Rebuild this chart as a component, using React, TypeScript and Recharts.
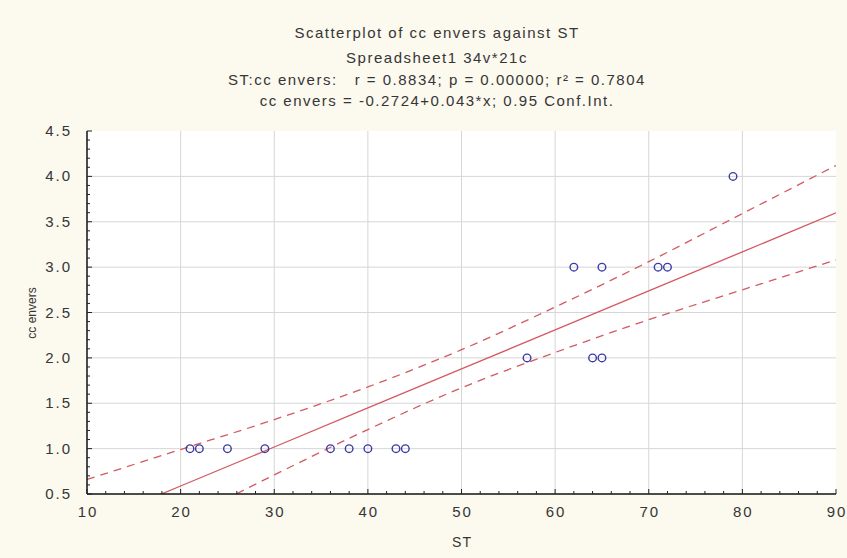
import React from 'react';
import { ComposedChart, Scatter, Line, XAxis, YAxis, ReferenceLine } from 'recharts';

// Observed points (ST, cc envers)
const stValues = [21, 22, 25, 29, 36, 38, 40, 43, 44, 57, 64, 65, 62, 65, 71, 72, 79];
const ccValues = [1, 1, 1, 1, 1, 1, 1, 1, 1, 2, 2, 2, 3, 3, 3, 3, 4];

// Regression line and 0.95 confidence band
const lineX = [10, 20, 30, 40, 50, 60, 70, 80, 90];
const fitY = [0.158, 0.588, 1.018, 1.448, 1.878, 2.308, 2.738, 3.168, 3.598];
const upperY = [0.66, 0.99, 1.32, 1.68, 2.09, 2.56, 3.06, 3.59, 4.12];
const lowerY = [-0.34, 0.19, 0.71, 1.21, 1.67, 2.06, 2.42, 2.75, 3.08];

// Axis ticks
const xTicks = [10, 20, 30, 40, 50, 60, 70, 80, 90];
const yTicks = [0.5, 1.0, 1.5, 2.0, 2.5, 3.0, 3.5, 4.0, 4.5];
const yTickLabels = ['0.5', '1.0', '1.5', '2.0', '2.5', '3.0', '3.5', '4.0', '4.5'];
const xGrid = [20, 30, 40, 50, 60, 70, 80];
const yGrid = [1.0, 1.5, 2.0, 2.5, 3.0, 3.5, 4.0];

const xMinor = Array.from({ length: 41 }, (_, i) => 10 + i * 2);
const yMinor = Array.from({ length: 41 }, (_, i) => Math.round((0.5 + i * 0.1) * 10) / 10);

const titleLines = [
  'Scatterplot of cc envers against ST',
  'Spreadsheet1 34v*21c',
  'ST:cc envers:   r = 0.8834; p = 0.00000; r² = 0.7804',
  'cc envers = -0.2724+0.043*x; 0.95 Conf.Int.',
];

const scatterData = stValues.map((x, i) => ({ x, y: ccValues[i] }));
const fitData = lineX.map((x, i) => ({ x, y: fitY[i] }));
const upperData = lineX.map((x, i) => ({ x, y: upperY[i] }));
const lowerData = lineX.map((x, i) => ({ x, y: lowerY[i] }));

const FONT = '"Liberation Sans", Arial, sans-serif';
const TEXT = '#363636';
const RED = '#d35a62';
const BLUE = '#3b3ba6';

const isMajorX = (v: number) => Math.abs(v % 10) < 1e-6;
const isMajorY = (v: number) => Math.abs(v * 2 - Math.round(v * 2)) < 1e-6;

const BottomTick = (props: any) => {
  const { x, y, payload } = props;
  const v = payload.value;
  const major = isMajorX(v);
  const idx = xTicks.indexOf(v);
  return (
    <g>
      <line x1={x} y1={y} x2={x} y2={y - (major ? 5 : 3)} stroke="#222" strokeWidth={1} />
      {major && idx >= 0 && (
        <text x={x + 1} y={y + 23} textAnchor="middle" fill={TEXT} fontSize={15} fontFamily={FONT} letterSpacing={2}>
          {String(xTicks[idx])}
        </text>
      )}
    </g>
  );
};

const TopTick = (props: any) => {
  const { x, y, payload } = props;
  const major = isMajorX(payload.value);
  return <line x1={x} y1={y} x2={x} y2={y + (major ? 5 : 3)} stroke="#444" strokeWidth={1} />;
};

const LeftTick = (props: any) => {
  const { x, y, payload } = props;
  const v = payload.value;
  const major = isMajorY(v);
  const idx = yTicks.findIndex((t) => Math.abs(t - v) < 1e-6);
  return (
    <g>
      <line x1={x} y1={y} x2={x + (major ? 5 : 3)} y2={y} stroke="#222" strokeWidth={1} />
      {major && idx >= 0 && (
        <text x={x - 15} y={y + 5} textAnchor="end" fill={TEXT} fontSize={15} fontFamily={FONT} letterSpacing={2}>
          {yTickLabels[idx]}
        </text>
      )}
    </g>
  );
};

const RightTick = (props: any) => {
  const { x, y, payload } = props;
  const major = isMajorY(payload.value);
  return <line x1={x} y1={y} x2={x - (major ? 5 : 3)} y2={y} stroke="#444" strokeWidth={1} />;
};

const OpenCircle = (props: any) => {
  const { cx, cy } = props;
  return <circle cx={cx} cy={cy} r={3.8} fill="none" stroke={BLUE} strokeWidth={1.4} />;
};

export default function App() {
  return (
    <div style={{ position: 'absolute', left: 0, top: 0, width: 847, height: 558, background: '#fcf9ee', overflow: 'hidden' }}>
      {titleLines.map((t, i) => (
        <div
          key={i}
          style={{
            position: 'absolute',
            left: 187,
            width: 500,
            top: [24, 49, 71, 92][i],
            textAlign: 'center',
            fontFamily: FONT,
            fontSize: 15,
            letterSpacing: 1.5,
            color: TEXT,
            whiteSpace: 'pre',
            lineHeight: '18px',
          }}
        >
          {t}
        </div>
      ))}
      <div
        style={{
          position: 'absolute',
          left: 440,
          width: 44,
          top: 533,
          textAlign: 'center',
          fontFamily: FONT,
          fontSize: 14,
          letterSpacing: 1,
          color: TEXT,
          lineHeight: '18px',
        }}
      >
        ST
      </div>
      <div
        style={{
          position: 'absolute',
          left: 32,
          top: 313,
          transform: 'translate(-50%, -50%) rotate(-90deg)',
          fontFamily: FONT,
          fontSize: 12,
          color: TEXT,
          whiteSpace: 'nowrap',
          lineHeight: '14px',
        }}
      >
        cc envers
      </div>
      <div style={{ position: 'absolute', left: 0, top: 0 }}>
        <ComposedChart width={847} height={558} margin={{ top: 131, right: 11, bottom: 24, left: 0 }}>
          <rect x={87} y={131} width={749} height={363} fill="#ffffff" />
          <XAxis
            xAxisId="main"
            dataKey="x"
            type="number"
            domain={[10, 90]}
            ticks={xMinor}
            allowDataOverflow
            orientation="bottom"
            height={40}
            tickSize={0}
            tickMargin={0}
            tickLine={false}
            axisLine={{ stroke: '#111', strokeWidth: 1.5 }}
            tick={<BottomTick />}
            interval={0}
          />
          <XAxis
            xAxisId="top"
            type="number"
            domain={[10, 90]}
            ticks={xMinor}
            allowDataOverflow
            orientation="top"
            height={0}
            tickSize={0}
            tickMargin={0}
            tickLine={false}
            axisLine={{ stroke: '#8a8a8a', strokeWidth: 3 }}
            tick={<TopTick />}
            interval={0}
          />
          <YAxis
            yAxisId="main"
            dataKey="y"
            type="number"
            domain={[0.5, 4.5]}
            ticks={yMinor}
            allowDataOverflow
            orientation="left"
            width={87}
            tickSize={0}
            tickMargin={0}
            tickLine={false}
            axisLine={{ stroke: '#111', strokeWidth: 1.5 }}
            tick={<LeftTick />}
            interval={0}
          />
          <YAxis
            yAxisId="right"
            type="number"
            domain={[0.5, 4.5]}
            ticks={yMinor}
            allowDataOverflow
            orientation="right"
            width={0}
            tickSize={0}
            tickMargin={0}
            tickLine={false}
            axisLine={{ stroke: '#333', strokeWidth: 1.2 }}
            tick={<RightTick />}
            interval={0}
          />
          {xGrid.map((v) => (
            <ReferenceLine key={'gx' + v} x={v} xAxisId="main" yAxisId="main" stroke="#d6d6d6" strokeWidth={1} />
          ))}
          {yGrid.map((v) => (
            <ReferenceLine key={'gy' + v} y={v} xAxisId="main" yAxisId="main" stroke="#d6d6d6" strokeWidth={1} />
          ))}
          <Line
            xAxisId="main"
            yAxisId="main"
            data={upperData}
            dataKey="y"
            type="monotone"
            stroke={RED}
            strokeWidth={1.3}
            strokeDasharray="8 6"
            dot={false}
            isAnimationActive={false}
          />
          <Line
            xAxisId="main"
            yAxisId="main"
            data={lowerData}
            dataKey="y"
            type="monotone"
            stroke={RED}
            strokeWidth={1.3}
            strokeDasharray="8 6"
            dot={false}
            isAnimationActive={false}
          />
          <Line
            xAxisId="main"
            yAxisId="main"
            data={fitData}
            dataKey="y"
            type="linear"
            stroke={RED}
            strokeWidth={1.3}
            dot={false}
            isAnimationActive={false}
          />
          <Scatter
            xAxisId="main"
            yAxisId="main"
            data={scatterData}
            dataKey="y"
            shape={<OpenCircle />}
            isAnimationActive={false}
          />
        </ComposedChart>
      </div>
    </div>
  );
}
